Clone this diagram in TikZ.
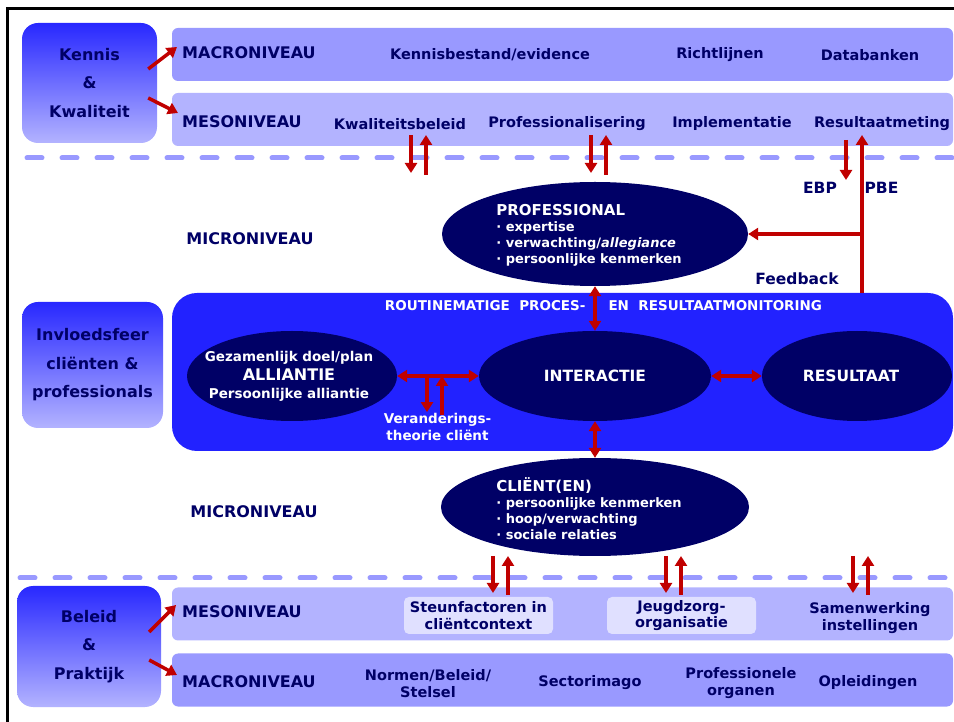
\documentclass[tikz,border=0pt]{standalone}
\usepackage{fontspec}
\setmainfont{DejaVu Sans}
\usepackage{tikz}
\usetikzlibrary{calc}
\usetikzlibrary{shapes}
\usetikzlibrary{arrows.meta}
\definecolor{navy}{RGB}{0,0,102}
\definecolor{rmonblue}{RGB}{34,34,255}
\definecolor{macrofill}{RGB}{153,153,255}
\definecolor{mesofill}{RGB}{179,179,255}
\definecolor{palefill}{RGB}{224,224,255}
\definecolor{sidetop}{RGB}{40,40,255}
\definecolor{arrowred}{RGB}{192,0,0}
\newcommand{\fsz}[2]{\fontsize{#1}{#2}\selectfont}
\newcommand{\flowpair}[3]{\coordinate (fa#1) at (#1,#2); \coordinate (fb#1) at (#1,#3);
  \draw[redarrow] (fa#1) -- (fb#1); \draw[redarrow] ([xshift=15pt,yshift=-2pt]fb#1) -- ([xshift=15pt]fa#1);}
\tikzset{
  sidebox/.style={rounded corners=16pt, top color=sidetop, bottom color=mesofill, text=navy, align=center, font=\fsz{16}{28.5}\bfseries},
  levelbar/.style={rounded corners=6pt, minimum width=781pt, minimum height=53pt, inner sep=0pt},
  lvltext/.style={text=navy, inner sep=0pt, font=\fsz{16}{19}\bfseries},
  itemtext/.style={text=navy, inner sep=0pt, align=center, font=\fsz{14.5}{16.5}\bfseries},
  palebox/.style={fill=palefill, rounded corners=5pt, minimum width=149pt, minimum height=37pt, itemtext},
  dashline/.style={draw=macrofill, line width=5pt, line cap=round, dash pattern=on 15pt off 20pt},
  bubble/.style={ellipse, fill=navy, inner sep=0pt},
  bubbletxt/.style={text=white, inner sep=0pt, font=\bfseries},
  redarrow/.style={draw=arrowred, line width=3.5pt, -{Triangle[length=10pt,width=12pt]}},
  redboth/.style={redarrow, {Triangle[length=10pt,width=12pt]}-{Triangle[length=10pt,width=12pt]}}
}
\begin{document}
\begin{tikzpicture}[x=1pt, y=1pt]
    \useasboundingbox (0,0) rectangle (954,721);
    \draw[line width=3pt] (7,-5) -- (7,712) -- (960,712);
    % side boxes
    \node[sidebox, minimum width=135pt, minimum height=120pt] (kennis) at (89.5,638) {Kennis\\\&\\Kwaliteit};
    \node[sidebox, minimum width=141pt, minimum height=126pt] (invloed) at (92.5,356) {Invloedsfeer\\cliënten \&\\professionals};
    \node[sidebox, minimum width=144pt, minimum height=121pt] (beleid) at (89,74.5) {Beleid\\\&\\Praktijk};
    % level bars
    \node[levelbar, fill=macrofill] (macrotop) at (562.5,666.5) {};
    \node[levelbar, fill=mesofill] (mesotop) at (562.5,601.5) {};
    \node[levelbar, fill=mesofill] (mesobot) at (562.5,107) {};
    \node[levelbar, fill=macrofill] (macrobot) at (562.5,41) {};
    \node[lvltext, anchor=west] (macrotoplbl) at (182,668) {MACRONIVEAU};
    \node[lvltext, anchor=west] (mesotoplbl) at (182,599) {MESONIVEAU};
    \node[lvltext, anchor=west] (mesobotlbl) at (182,109) {MESONIVEAU};
    \node[lvltext, anchor=west] (macrobotlbl) at (182,39) {MACRONIVEAU};
    % top items
    \node[itemtext] (kennisbest) at (490,666) {Kennisbestand/evidence};
    \node[itemtext] (richtl) at (720,666) {Richtlijnen};
    \node[itemtext] (databank) at (870,666) {Databanken};
    \node[itemtext] (kwalbel) at (400,597) {Kwaliteitsbeleid};
    \node[itemtext] (profes) at (567,597) {Professionalisering};
    \node[itemtext] (implem) at (732,597) {Implementatie};
    \node[itemtext] (resmeting) at (882,597) {Resultaatmeting};
    % bottom items
    \node[palebox] (steun) at (478.5,105.5) {Steunfactoren in\\cliëntcontext};
    \node[palebox] (jeugd) at (681.5,105.5) {Jeugdzorg-\\organisatie};
    \node[itemtext] (samenw) at (870,103) {Samenwerking\\instellingen};
    \node[itemtext] (normen) at (428,37.5) {Normen/Beleid/\\Stelsel};
    \node[itemtext] (sectorim) at (590,38) {Sectorimago};
    \node[itemtext] (proforg) at (741,38) {Professionele\\organen};
    \node[itemtext] (opleid) at (868,38) {Opleidingen};
    % dashed borders
    \draw[dashline] (27,563) -- (954,563);
    \draw[dashline] (20,143) -- (954,143);
    % micro level
    \node[lvltext] (microtop) at (250,482) {MICRONIVEAU};
    \node[lvltext] (microbot) at (254,209) {MICRONIVEAU};
    \node[lvltext, font=\fsz{15.5}{18}\bfseries] (ebp) at (820,533) {EBP};
    \node[lvltext, font=\fsz{15.5}{18}\bfseries] (pbe) at (881.5,533) {PBE};
    \node[lvltext, font=\fsz{15.5}{18}\bfseries] (feedback) at (797,442) {Feedback};
    \node[fill=rmonblue, rounded corners=25pt, minimum width=781pt, minimum height=158pt] (rmon) at (562.5,349) {};
    \node[bubbletxt, font=\fsz{13.5}{16}\bfseries] (rmonlbl) at (603.5,415) {ROUTINEMATIGE\ \ PROCES-\hspace{23pt}EN\ \ RESULTAATMONITORING};
    % ellipses
    \node[bubble, minimum width=306pt, minimum height=104pt] (prof) at (595,487) {};
    \node[bubble, minimum width=210pt, minimum height=90pt] (allian) at (292,345) {};
    \node[bubble, minimum width=232pt, minimum height=90pt] (inter) at (595,345) {};
    \node[bubble, minimum width=190pt, minimum height=90pt] (result) at (857,345) {};
    \node[bubble, minimum width=308pt, minimum height=98pt] (client) at (595,214) {};
    \node[bubbletxt, align=left, font=\fsz{13}{16}\bfseries] (proftxt) at ($(prof)+(-6,-1)$)
        {{\fsz{15}{17}PROFESSIONAL}\\· expertise\\· verwachting/\textit{allegiance}\\· persoonlijke kenmerken};
    \node[bubbletxt, align=center, font=\fsz{13.5}{18.5}\bfseries] (alliantxt) at (289,344.5)
        {Gezamenlijk doel/plan\\{\fsz{16}{18.5}ALLIANTIE}\\Persoonlijke alliantie};
    \node[bubbletxt, font=\fsz{15.5}{18}\bfseries] (intertxt) at (inter) {INTERACTIE};
    \node[bubbletxt, font=\fsz{15.5}{18}\bfseries] (resulttxt) at (851,345) {RESULTAAT};
    \node[bubbletxt, align=left, font=\fsz{13}{16}\bfseries] (clienttxt) at ($(client)+(-6,-2)$)
        {{\fsz{15}{17}CLIËNT(EN)}\\· persoonlijke kenmerken\\· hoop/verwachting\\· sociale relaties};
    \node[bubbletxt, align=center, font=\fsz{13.5}{17}\bfseries] (veranderlbl) at (437.5,294) {Veranderings-\\theorie cliënt};
    % arrows side boxes
    \draw[redarrow] ([shift={(-9,14)}]kennis.east) -- ([shift={(-5,6)}]macrotoplbl.west);
    \draw[redarrow] ([shift={(-9,-15)}]kennis.east) -- ([shift={(-4,9)}]mesotoplbl.west);
    \draw[redarrow] ([shift={(-12,14.5)}]beleid.east) -- ([shift={(-6,7)}]mesobotlbl.west);
    \draw[redarrow] ([shift={(-12,-13.5)}]beleid.east) -- ([shift={(-5,7)}]macrobotlbl.west);
    % arrows between levels
    \flowpair{411}{586}{548}
    \flowpair{591}{586}{548}
    \flowpair{493}{165}{128}
    \flowpair{666}{165}{128}
    \flowpair{853}{165}{128}
    \coordinate (ebptop) at (846,581);
    \coordinate (ebptip) at (846,541);
    \draw[redarrow] (ebptop) -- (ebptip);
    % feedback
    \coordinate (fbjoin) at (862,487);
    \coordinate (pbetip) at (862,586);
    \draw[redarrow] (rmon.north -| fbjoin) -- (pbetip);
    \draw[redarrow] (fbjoin) -- (prof.east);
    % interaction arrows
    \draw[redboth] (prof) -- (inter);
    \draw[redboth] (allian) -- (inter);
    \draw[redboth] (inter) -- (result);
    \draw[redboth] (inter) -- (client);
    \coordinate (vsplit) at (veranderlbl.north |- allian.east);
    \draw[redarrow] ($(vsplit)+(-10.5,0)$) -- ($(veranderlbl.north)+(-10.5,1)$);
    \draw[redarrow] ($(veranderlbl.north)+(4.5,-2)$) -- ($(vsplit)+(4.5,0)$);
\end{tikzpicture}
\end{document}
